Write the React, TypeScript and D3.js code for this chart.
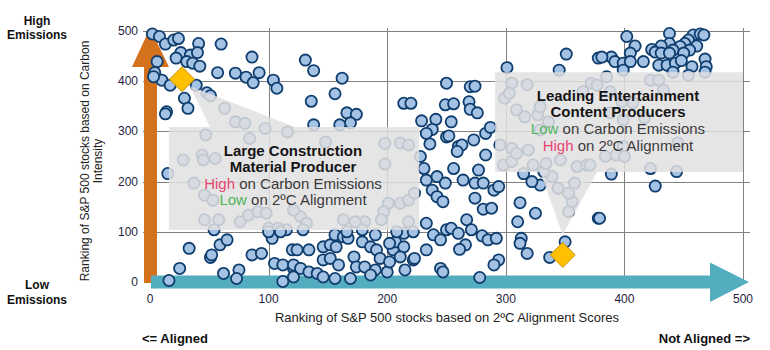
import React, { useRef, useEffect } from 'react';
import { select, scaleLinear, line } from 'd3';

const ticks = [0, 100, 200, 300, 400, 500];

// [2°C alignment rank, carbon intensity rank]
const points: [number, number][] = [
  [2, 494], [8, 489], [13, 474], [20, 482], [24, 485], [41, 475], [60, 474], [26, 457], [22, 446], [34, 452],
  [40, 457], [31, 439], [36, 436], [42, 430], [6, 439], [86, 448], [4, 417], [10, 402], [17, 392], [3, 409],
  [57, 417], [72, 416], [81, 408], [87, 397], [92, 417], [104, 402], [107, 386], [39, 392], [48, 377], [51, 371],
  [29, 366], [32, 346], [14, 339], [13, 335],
  [63, 346], [72, 319], [80, 316], [97, 306], [116, 299], [47, 293], [84, 286],
  [28, 243], [44, 253], [45, 243], [55, 246], [15, 216], [37, 197], [46, 173], [53, 163], [46, 124],
  [58, 124], [76, 120], [83, 133], [91, 140], [98, 137], [100, 107], [108, 107], [115, 104],
  [54, 104], [33, 67], [59, 74], [65, 84], [51, 49], [52, 54], [86, 54], [94, 57], [103, 87], [100, 100],
  [110, 100], [105, 37], [112, 34], [120, 64], [121, 27], [25, 27], [16, 3], [62, 17], [75, 24], [73, 7],
  [112, 1], [121, 10],
  [131, 442], [138, 421], [162, 406], [156, 375], [136, 360], [166, 337], [174, 334], [169, 317], [160, 313], [138, 313],
  [214, 356], [220, 356], [229, 321], [241, 324], [238, 304], [233, 296], [250, 396], [249, 353], [250, 289], [236, 275],
  [228, 250], [148, 279], [198, 276], [211, 277], [218, 273],
  [198, 235], [201, 157], [211, 157], [218, 163], [223, 177], [197, 140], [195, 124], [181, 120], [173, 120], [163, 124],
  [127, 130], [121, 143], [132, 117], [218, 120],
  [231, 226], [233, 203], [242, 210], [249, 197], [238, 183], [242, 170], [247, 160], [233, 117], [239, 94], [245, 84],
  [250, 104], [233, 64], [222, 44], [245, 27],
  [129, 104], [124, 64], [134, 64], [121, 34], [127, 27], [134, 20], [141, 17], [146, 70], [152, 74], [156, 94],
  [163, 90], [167, 87], [157, 70], [146, 44], [152, 47], [159, 34], [146, 10], [156, 7], [169, 7], [172, 50],
  [174, 30], [181, 30], [179, 80], [186, 70], [191, 64], [194, 47], [190, 24], [186, 14], [200, 20], [202, 40],
  [205, 64], [207, 80], [202, 77], [214, 70], [211, 50], [215, 24], [223, 47], [214, 97], [190, 94], [179, 104],
  [166, 100], [208, 100], [222, 100],
  [301, 427], [351, 454], [345, 422], [378, 446], [270, 389], [274, 390], [256, 355], [269, 359], [270, 344], [276, 337],
  [254, 319], [252, 291], [260, 270], [263, 273], [273, 283], [259, 260], [283, 253], [283, 296], [287, 308],
  [305, 396], [299, 366], [303, 376], [318, 393], [309, 343], [316, 329], [327, 333], [329, 349], [336, 319], [295, 273],
  [305, 266], [319, 263], [329, 303], [372, 396], [365, 379],
  [256, 226], [264, 203], [277, 223], [274, 197], [281, 197], [290, 183], [294, 190], [274, 167], [281, 145], [288, 147],
  [267, 124], [254, 107], [260, 97], [271, 104], [280, 92], [285, 84], [292, 87], [266, 74], [261, 65], [294, 44],
  [290, 34], [247, 20], [278, 9], [312, 158], [325, 137], [310, 120], [313, 87], [312, 77], [318, 57], [337, 49],
  [350, 80], [378, 127], [329, 193], [322, 200], [315, 216],
  [353, 140], [356, 160], [344, 187], [353, 177], [358, 197], [339, 210], [332, 220], [298, 233],
  [402, 489], [438, 495], [458, 492], [464, 494], [467, 492], [454, 482], [451, 475], [438, 475], [409, 470], [431, 470],
  [447, 469], [461, 470], [423, 463], [426, 458], [441, 462], [455, 462], [405, 456], [431, 456], [438, 456], [450, 456],
  [389, 448], [381, 448], [392, 439], [399, 436], [405, 439], [416, 439], [429, 432], [436, 432], [443, 436], [448, 441],
  [468, 444], [469, 429], [457, 429],
  [385, 409], [399, 422], [422, 402], [429, 402], [441, 418], [454, 412], [468, 418], [399, 323], [399, 270],
  [377, 392], [388, 379], [398, 359], [388, 337], [417, 327], [445, 277], [407, 357], [433, 382],
  [305, 240], [309, 256], [323, 233], [334, 236], [346, 243], [360, 230], [368, 233],
  [389, 215], [422, 226], [426, 191], [444, 220], [379, 127], [384, 250], [393, 253], [400, 250], [371, 233],
];

const highlights: [number, number][] = [[27, 404], [348, 54]];

// callout outlines (box + pointer) in chart units
const callout1: [number, number][] = [[16, 309], [50.6, 309], [33.7, 390], [122, 309], [227, 309], [227, 103.6], [16, 103.6]];
const callout2: [number, number][] = [[291, 418], [500, 418], [500, 219], [377, 219], [348, 94], [329, 219], [291, 219]];

const callout1Lines = [
  { parts: [{ t: 'Large Construction', c: '#151515' }], bold: true },
  { parts: [{ t: 'Material Producer', c: '#151515' }], bold: true },
  { parts: [{ t: 'High', c: '#e8466f' }, { t: ' on Carbon Emissions', c: '#3a3a3a' }], bold: false },
  { parts: [{ t: 'Low', c: '#4fb45a' }, { t: ' on 2ºC Alignment', c: '#3a3a3a' }], bold: false },
];
const callout2Lines = [
  { parts: [{ t: 'Leading Entertainment', c: '#151515' }], bold: true },
  { parts: [{ t: 'Content Producers', c: '#151515' }], bold: true },
  { parts: [{ t: 'Low', c: '#4fb45a' }, { t: ' on Carbon Emissions', c: '#3a3a3a' }], bold: false },
  { parts: [{ t: 'High', c: '#e8466f' }, { t: ' on 2ºC Alignment', c: '#3a3a3a' }], bold: false },
];

const FONT = '"Liberation Sans", Arial, sans-serif';

const App: React.FC = () => {
  const svgRef = useRef<SVGSVGElement | null>(null);

  useEffect(() => {
    if (!svgRef.current) return;
    const svg = select(svgRef.current);
    svg.selectAll('*').remove();

    const x = scaleLinear().domain([0, 500]).range([150, 743]);
    const y = scaleLinear().domain([0, 500]).range([282, 31]);

    svg.append('rect').attr('width', 770).attr('height', 350).attr('fill', '#fff');

    // grid
    const grid = svg.append('g').attr('stroke', '#808080').attr('stroke-width', 1);
    ticks.filter(t => t > 0).forEach(t => {
      grid.append('line').attr('x1', 143).attr('x2', 750).attr('y1', Math.round(y(t)) + 0.5).attr('y2', Math.round(y(t)) + 0.5);
      grid.append('line').attr('y1', 28).attr('y2', y(0)).attr('x1', Math.round(x(t)) + 0.5).attr('x2', Math.round(x(t)) + 0.5);
    });

    // arrows
    const ox = x(0), oy = y(0);
    svg.append('polygon')
      .attr('points', [[ox - 6, oy + 1], [ox + 7, oy + 1], [ox + 7, 67], [ox + 19, 67], [ox, 28], [ox - 18, 67], [ox - 6, 67]].join(' '))
      .attr('fill', '#d4711c');
    svg.append('polygon')
      .attr('points', [[ox + 1, oy - 6.5], [710, oy - 6.5], [710, oy - 19.5], [749, oy], [710, oy + 20], [710, oy + 6.5], [ox + 1, oy + 6.5]].join(' '))
      .attr('fill', '#53adbf');

    // points
    svg.append('g').selectAll('circle').data(points).enter().append('circle')
      .attr('cx', d => x(d[0])).attr('cy', d => y(d[1])).attr('r', 5.6)
      .attr('fill', '#a4c2e4').attr('stroke', '#0f3e6e').attr('stroke-width', 1.8);

    // callouts
    const path = line<[number, number]>().x(d => x(d[0])).y(d => y(d[1]));
    [callout1, callout2].forEach(c => {
      svg.append('path').attr('d', path(c) + 'Z').attr('fill', '#e2e0e2').attr('fill-opacity', 0.85);
    });

    // highlighted stocks
    svg.append('g').selectAll('path').data(highlights).enter().append('path')
      .attr('d', d => `M${x(d[0])},${y(d[1]) - 12.5}L${x(d[0]) + 12.5},${y(d[1])}L${x(d[0])},${y(d[1]) + 12.5}L${x(d[0]) - 12.5},${y(d[1])}Z`)
      .attr('fill', '#ffc000').attr('stroke', '#c8900a').attr('stroke-width', 1);

    const drawLines = (lines: typeof callout1Lines, cx: number, baselines: number[]) => {
      lines.forEach((l, i) => {
        const t = svg.append('text').attr('x', cx).attr('y', baselines[i]).attr('text-anchor', 'middle')
          .attr('font-family', FONT).attr('font-size', 15).attr('font-weight', l.bold ? 'bold' : 'normal');
        l.parts.forEach(p => t.append('tspan').attr('fill', p.c).text(p.t));
      });
    };
    drawLines(callout1Lines, 293, [156, 172, 188.5, 205]);
    drawLines(callout2Lines, 618, [101, 117, 134, 150.5]);

    // tick labels
    ticks.forEach(t => {
      svg.append('text').attr('x', 138).attr('y', y(t) + 4).attr('text-anchor', 'end')
        .attr('font-family', FONT).attr('font-size', 12).attr('fill', '#1e1e3c').text(t);
      svg.append('text').attr('x', x(t)).attr('y', 303).attr('text-anchor', 'middle')
        .attr('font-family', FONT).attr('font-size', 12).attr('fill', '#1e1e3c').text(t);
    });

    // axis titles
    svg.append('text').attr('x', 447).attr('y', 322).attr('text-anchor', 'middle')
      .attr('font-family', FONT).attr('font-size', 13).attr('fill', '#222').text('Ranking of S&P 500 stocks based on 2ºC Alignment Scores');
    const yt = svg.append('text').attr('transform', 'translate(89,161) rotate(-90)').attr('text-anchor', 'middle')
      .attr('font-family', FONT).attr('font-size', 12).attr('fill', '#222');
    yt.append('tspan').attr('x', 0).attr('y', 0).text('Ranking of S&P 500 stocks based on Carbon');
    yt.append('tspan').attr('x', 0).attr('y', 13).text('Intensity');

    const bold = (tx: number, ty: number, s: string, anchor: string, size = 12) =>
      svg.append('text').attr('x', tx).attr('y', ty).attr('text-anchor', anchor)
        .attr('font-family', FONT).attr('font-size', size).attr('font-weight', 'bold').attr('fill', '#111').text(s);
    bold(37, 25, 'High', 'middle');
    bold(37, 39, 'Emissions', 'middle');
    bold(37, 289, 'Low', 'middle');
    bold(37, 304, 'Emissions', 'middle');
    bold(142, 343, '<= Aligned', 'start', 13);
    bold(750, 343, 'Not Aligned =>', 'end', 13);
  }, []);

  return (
    <div style={{ position: 'fixed', left: 0, top: 0, width: 770, height: 350 }}>
      <svg ref={svgRef} width={770} height={350} style={{ display: 'block' }}></svg>
    </div>
  );
};

export default App;
